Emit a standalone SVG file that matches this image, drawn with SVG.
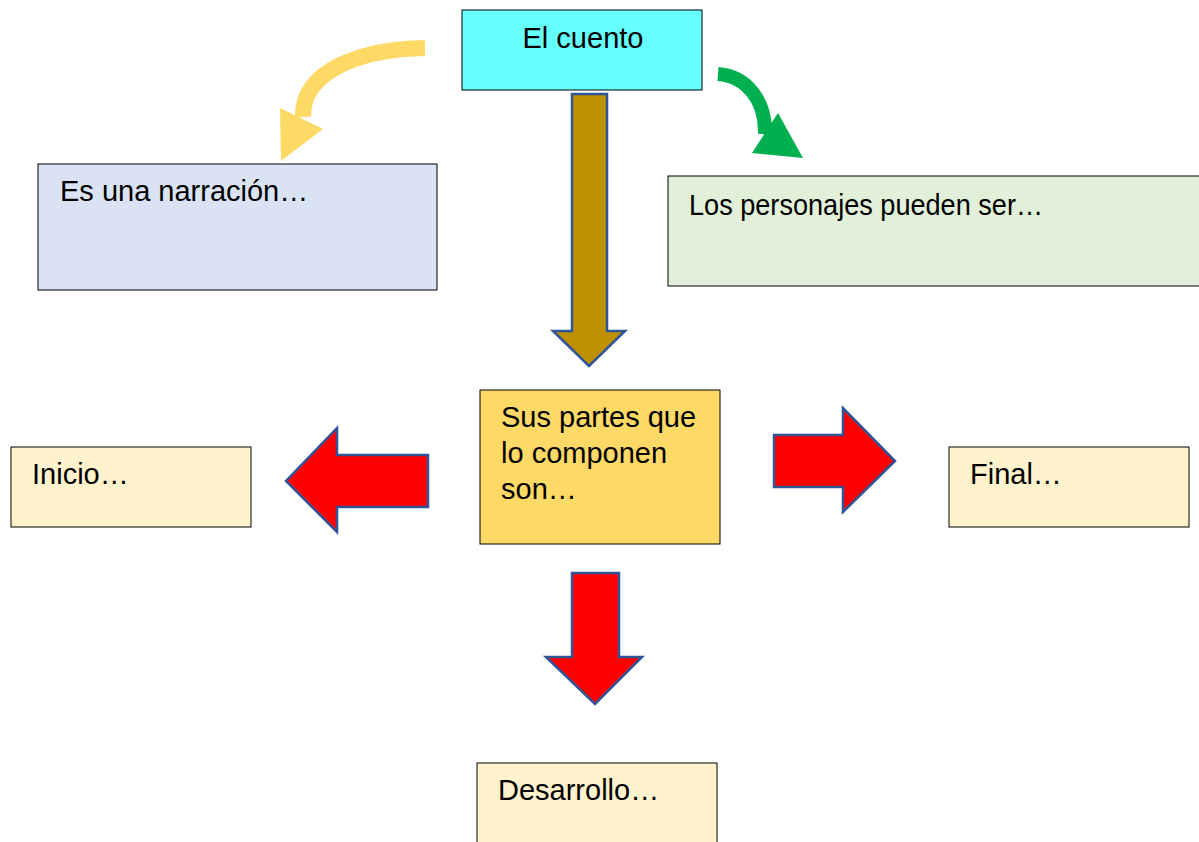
<svg xmlns="http://www.w3.org/2000/svg" width="1199" height="842" viewBox="0 0 1199 842">
<style>
.box{stroke:#000;stroke-width:1}
.t{font-family:"Liberation Sans",Arial,sans-serif;font-size:29px;fill:#000}
.blk{stroke:#2F5597;stroke-width:2.5;stroke-linejoin:miter}
.red{fill:#FF0000}
</style>
<rect width="1199" height="842" fill="#fff"/>
<g id="connectors">
<path d="M425,48 C362,49 302,70 303,117" fill="none" stroke="#FFD966" stroke-width="16"/>
<polygon points="280,108 323,129 281,161" fill="#FFD966"/>
<path d="M718,74 C746,76 766,100 765,134" fill="none" stroke="#00B050" stroke-width="14"/>
<polygon points="778,113 752,153 803,158" fill="#00B050"/>
<polygon class="blk" fill="#BF9000" points="572,94 607,94 607,331 625,331 589,366 553,331 572,331"/>
<polygon class="blk red" points="428,455 428,507 337,507 337,532 286,481 337,428 337,455"/>
<polygon class="blk red" points="774,435 843,435 843,408 895,461 843,512 843,487 774,487"/>
<polygon class="blk red" points="572,573 619,573 619,657 642,657 595,704 546,657 572,657"/>
</g>
<g id="cuento">
<rect class="box" x="462" y="10" width="240" height="80" fill="#66FFFF"/>
<text class="t" x="583" y="48" text-anchor="middle">El cuento</text>
</g>
<g id="narracion">
<rect class="box" x="38" y="164" width="399" height="126" fill="#DAE3F3"/>
<text class="t" x="60" y="201">Es una narración…</text>
</g>
<g id="personajes">
<rect class="box" x="668" y="176" width="540" height="110" fill="#E2F0D9"/>
<text class="t" x="689" y="215" textLength="354" lengthAdjust="spacingAndGlyphs">Los personajes pueden ser…</text>
</g>
<g id="partes">
<rect class="box" x="480" y="390" width="240" height="154" fill="#FFD966"/>
<text class="t" x="501" y="427">Sus partes que</text>
<text class="t" x="501" y="463">lo componen</text>
<text class="t" x="501" y="499">son…</text>
</g>
<g id="inicio">
<rect class="box" x="11" y="447" width="240" height="80" fill="#FFF2CC"/>
<text class="t" x="32" y="484">Inicio…</text>
</g>
<g id="final">
<rect class="box" x="949" y="447" width="240" height="80" fill="#FFF2CC"/>
<text class="t" x="970" y="484">Final…</text>
</g>
<g id="desarrollo">
<rect class="box" x="477" y="763" width="240" height="90" fill="#FFF2CC"/>
<text class="t" x="498" y="800">Desarrollo…</text>
</g>
</svg>
